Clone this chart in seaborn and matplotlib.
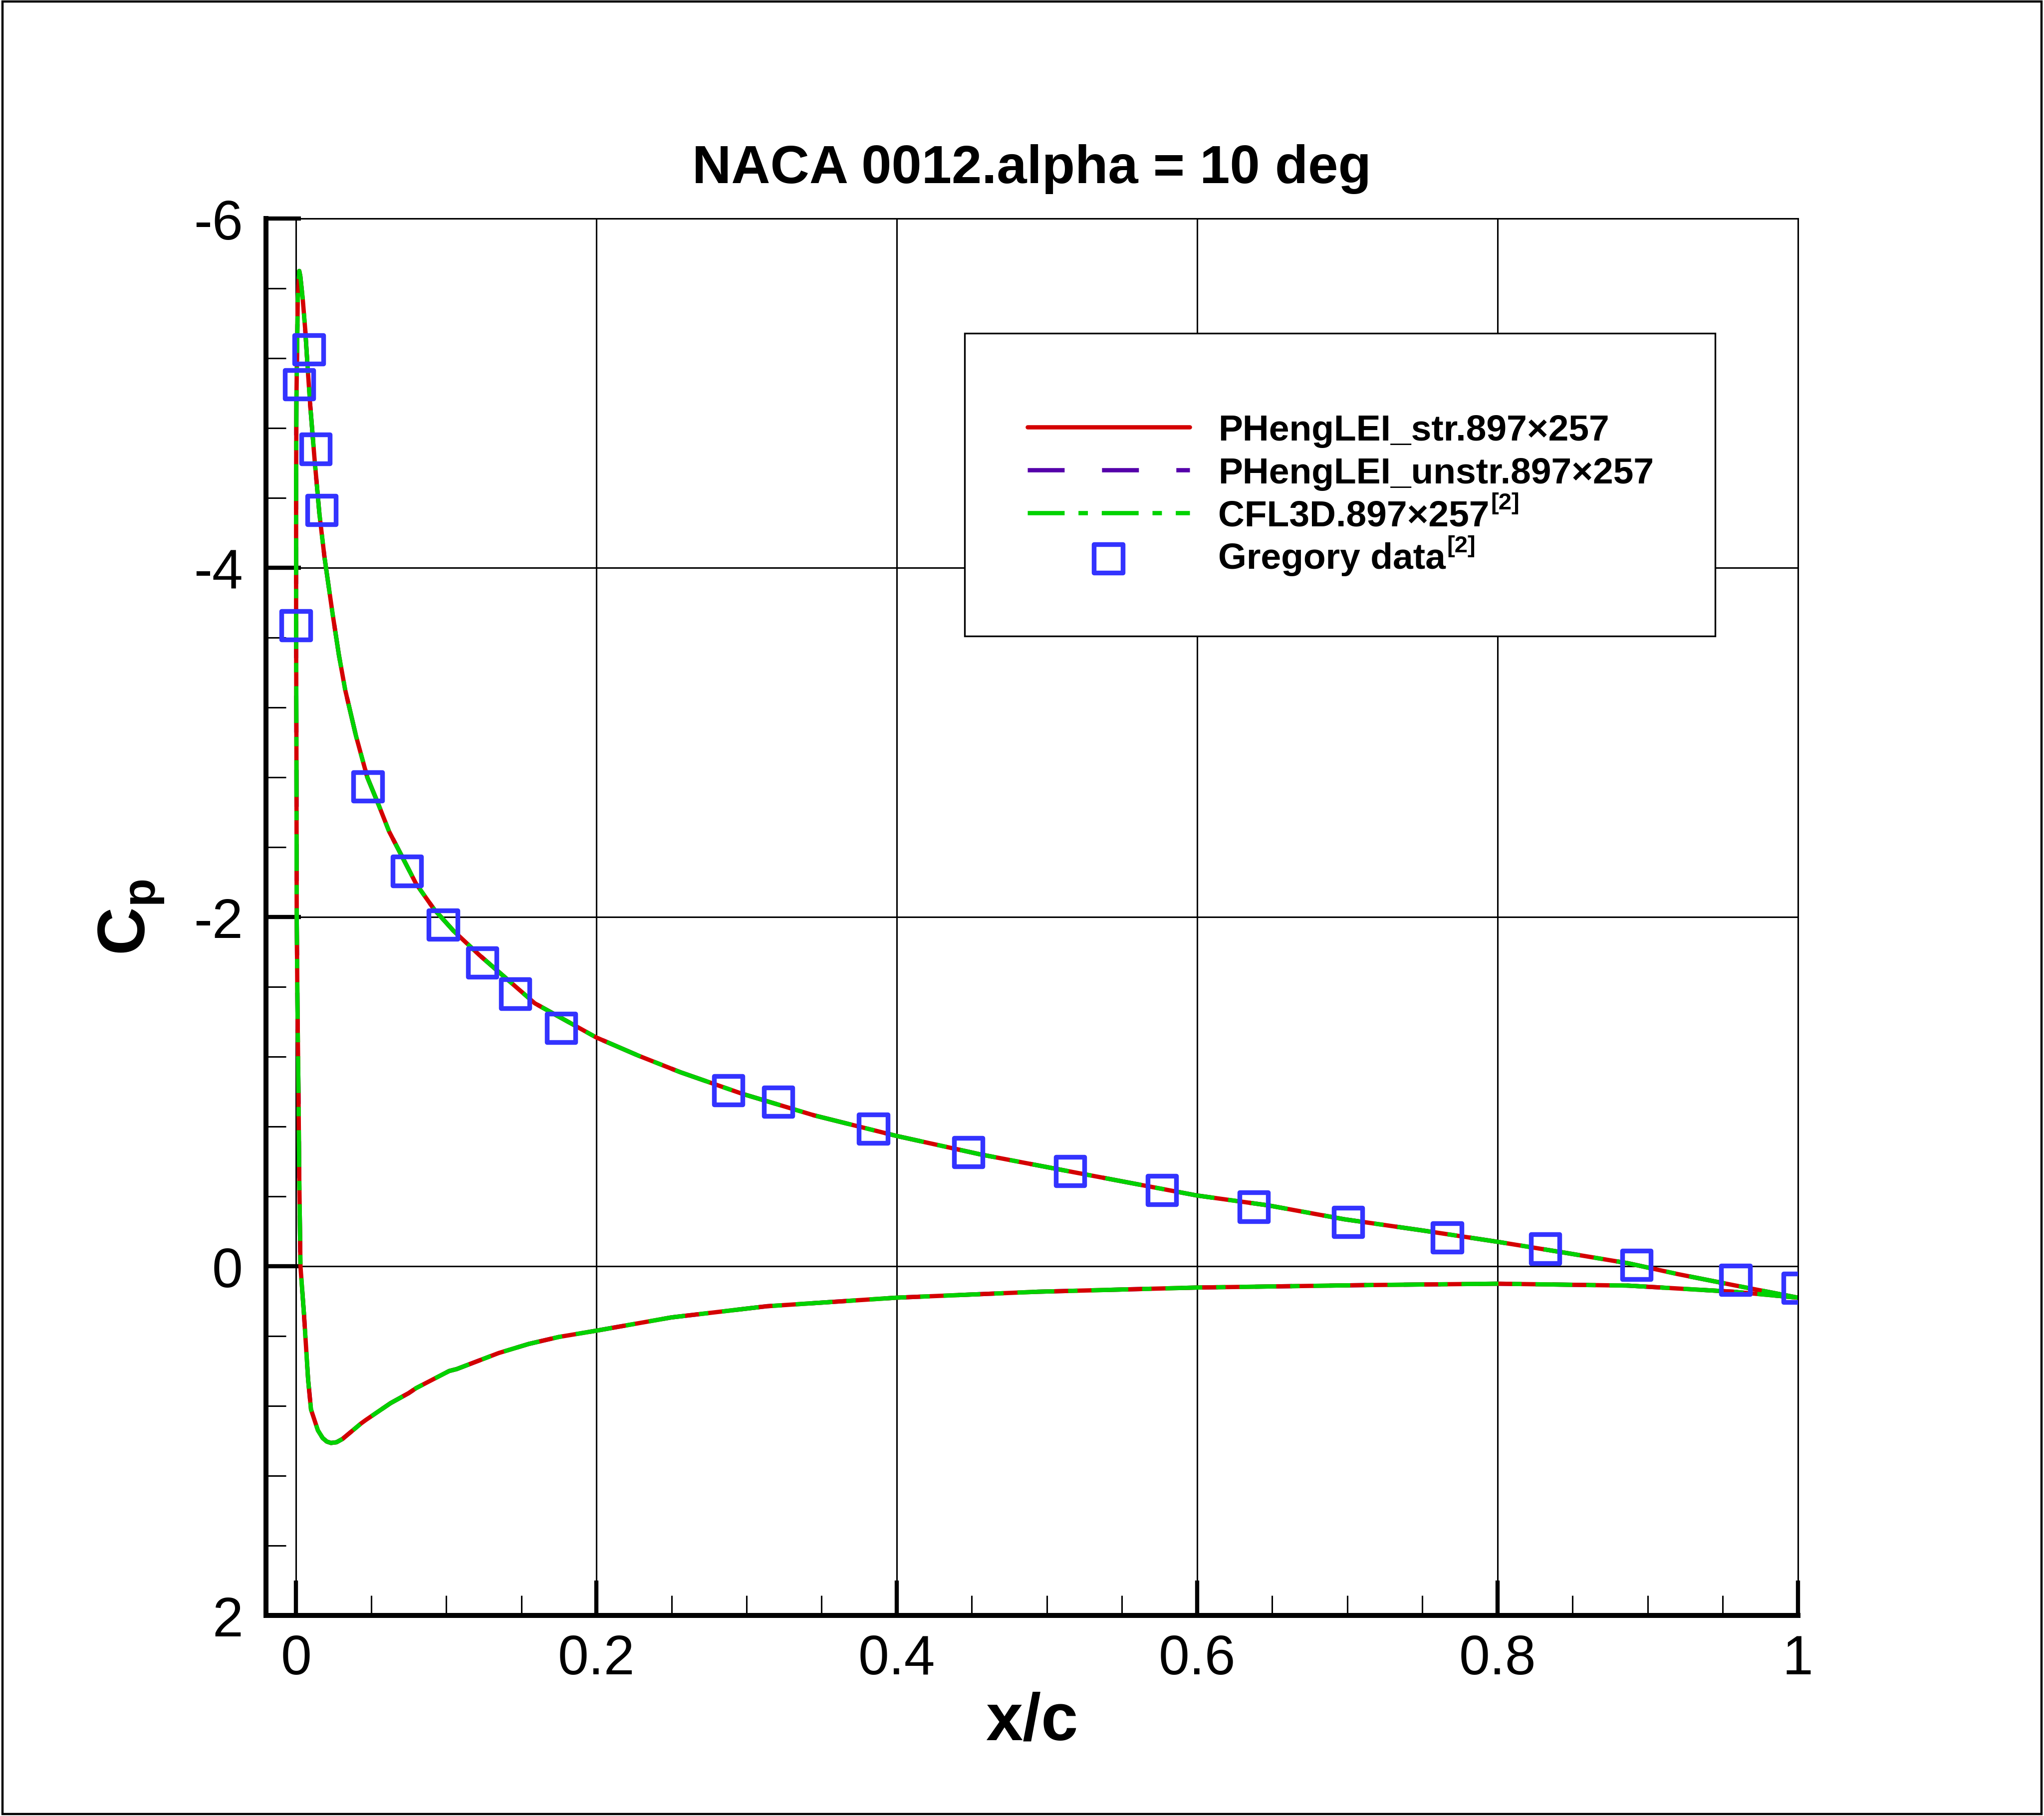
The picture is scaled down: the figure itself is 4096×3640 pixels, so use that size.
import matplotlib
matplotlib.use("Agg")
import pandas as pd
import seaborn as sns
import matplotlib.pyplot as plt
from matplotlib.patches import Rectangle
from matplotlib.ticker import MultipleLocator, FuncFormatter

# upper surface, trailing edge -> suction peak
upper_x = [1.0, 0.957, 0.92, 0.887, 0.843, 0.8, 0.75, 0.698, 0.647, 0.6, 0.52, 0.456,
           0.4, 0.345, 0.297, 0.256, 0.228, 0.2, 0.159, 0.122, 0.105, 0.092, 0.080,
           0.070, 0.062, 0.055, 0.0475, 0.040, 0.0328, 0.0286, 0.0245, 0.019, 0.0156,
           0.0123, 0.0095, 0.0079, 0.0062, 0.0045, 0.0029, 0.0022]
upper_cp = [0.18, 0.108, 0.045, -0.017, -0.08, -0.14, -0.205, -0.269, -0.349, -0.405,
            -0.535, -0.64, -0.746, -0.864, -0.988, -1.111, -1.206, -1.31, -1.506,
            -1.783, -1.92, -2.044, -2.19, -2.357, -2.49, -2.643, -2.80, -3.036, -3.30,
            -3.50, -3.73, -4.06, -4.31, -4.63, -4.93, -5.13, -5.36, -5.54, -5.67, -5.70]

# leading edge round the stagnation point, then lower surface -> trailing edge
lower_x = [0.0012, 0.0003, 0.0001, 0.0001, 0.0003, 0.0005, 0.0010, 0.0017, 0.0022,
           0.0030, 0.0053, 0.0081, 0.0100, 0.0146, 0.0178, 0.0205, 0.0233, 0.027, 0.031,
           0.0434, 0.0466, 0.063, 0.075, 0.080, 0.102, 0.107, 0.135, 0.155, 0.175, 0.2,
           0.25, 0.3136, 0.4, 0.494, 0.6, 0.712, 0.8, 0.887, 0.957, 1.0]
lower_cp = [-5.54, -4.96, -4.47, -3.65, -3.0, -2.0, -1.5, -0.97, -0.5, 0.0, 0.27, 0.65,
            0.82, 0.94, 0.984, 1.004, 1.012, 1.008, 0.989, 0.90, 0.88, 0.784, 0.727,
            0.698, 0.60, 0.589, 0.497, 0.445, 0.405, 0.369, 0.293, 0.229, 0.18, 0.146,
            0.122, 0.108, 0.10, 0.111, 0.146, 0.18]

# Gregory experiment
greg_x = [0.0, 0.002, 0.0086, 0.013, 0.017, 0.0478, 0.074, 0.098, 0.124, 0.146, 0.1766,
          0.288, 0.321, 0.3844, 0.4477, 0.5154, 0.5767, 0.6377, 0.7005, 0.7665, 0.8318,
          0.8925, 0.9585, 1.0]
greg_cp = [-3.67, -5.05, -5.25, -4.68, -4.33, -2.747, -2.263, -1.957, -1.738, -1.56,
           -1.364, -1.007, -0.942, -0.788, -0.654, -0.545, -0.435, -0.34, -0.254,
           -0.164, -0.10, -0.008, 0.078, 0.125]

labels = ["PHengLEI_str.897×257", "PHengLEI_unstr.897×257",
          "CFL3D.897×257", "Gregory data"]
ref_mark = "[2]"  # superscript on the last two entries

curve = pd.DataFrame({"x": upper_x + lower_x, "cp": upper_cp + lower_cp})

sns.set_style("white")
plt.rcParams["font.family"] = ["Liberation Sans", "DejaVu Sans"]
plt.rcParams["mathtext.fontset"] = "custom"
plt.rcParams["mathtext.rm"] = "Liberation Sans:bold"
plt.rcParams["mathtext.bf"] = "Liberation Sans:bold"
plt.rcParams["axes.unicode_minus"] = False
plt.rcParams["lines.scale_dashes"] = False
for key in ["text.color", "axes.labelcolor", "xtick.color", "ytick.color"]:
    plt.rcParams[key] = "black"

fig = plt.figure(figsize=(10.24, 9.1025), dpi=400)
ax = fig.add_axes([0.1301, 0.1104, 0.7495, 0.7690])

lw = 1.55
sns.lineplot(data=curve, x="x", y="cp", sort=False, estimator=None, color="#5500AA",
             linewidth=lw, linestyle=(0, (13.3, 13.5)), label=labels[1], ax=ax)
sns.lineplot(data=curve, x="x", y="cp", sort=False, estimator=None, color="#D40000",
             linewidth=lw, linestyle="-", label=labels[0], ax=ax)
sns.lineplot(data=curve, x="x", y="cp", sort=False, estimator=None, color="#00D200",
             linewidth=lw, linestyle=(0, (13.3, 5.0, 3.4, 5.0)), label=labels[2], ax=ax)
sns.scatterplot(x=greg_x, y=greg_cp, marker="s", s=106, facecolors="none",
                edgecolor="#3333FF", linewidth=1.7, label=labels[3], ax=ax, zorder=5)

ax.set_xlim(-0.02, 1.0)
ax.set_ylim(2, -6)
ax.xaxis.set_major_locator(MultipleLocator(0.2))
ax.xaxis.set_minor_locator(MultipleLocator(0.05))
ax.yaxis.set_major_locator(MultipleLocator(2))
ax.yaxis.set_minor_locator(MultipleLocator(0.4))
fmt = FuncFormatter(lambda v, p: f"{v:g}")
ax.xaxis.set_major_formatter(fmt)
ax.yaxis.set_major_formatter(fmt)

ax.tick_params(which="major", direction="in", length=12.6, width=1.5, labelsize=20,
               color="black", labelcolor="black", left=True, bottom=True)
ax.tick_params(which="minor", direction="in", length=7.2, width=0.55, left=True, bottom=True)
ax.tick_params(axis="x", which="major", pad=6.5)
ax.tick_params(axis="y", which="major", pad=8.3)

ax.set_axisbelow(True)
ax.grid(True, which="major", color="black", linewidth=0.55)
for side in ["left", "bottom"]:
    ax.spines[side].set_linewidth(1.8)
    ax.spines[side].set_color("black")
for side in ["top", "right"]:
    ax.spines[side].set_linewidth(0.55)
    ax.spines[side].set_color("black")

ax.set_title("NACA 0012.alpha = 10 deg", fontsize=19.5, fontweight="bold", pad=13)
ax.set_xlabel("x/c", fontsize=24, fontweight="bold", labelpad=2)
ax.set_ylabel(r"$\mathrm{C_p}$", fontsize=24, labelpad=10)

# legend box, white, covering the grid
ax.add_patch(Rectangle((0.456, 0.701), 0.490, 0.217, transform=ax.transAxes,
                       facecolor="white", edgecolor="black", linewidth=0.6, zorder=3))
handles, labs = ax.get_legend_handles_labels()
hmap = dict(zip(labs, handles))
leg = ax.legend([hmap[l] for l in labels], labels, loc="center left",
                bbox_to_anchor=(0.497, 0.8024), frameon=False,
                prop={"weight": "bold", "size": 13.2}, handlelength=4.43,
                handletextpad=0.79, labelspacing=0.24, borderpad=0, borderaxespad=0)

# superscript reference marks after the last two legend labels
fig.canvas.draw()
W, H = fig.bbox.width, fig.bbox.height
for t in leg.get_texts()[2:]:
    bb = t.get_window_extent()
    fig.text(bb.x1 / W + 0.0005, (bb.y1 + 14) / H, ref_mark, fontsize=8.5,
             fontweight="bold", va="top", ha="left", zorder=6)

fig.patches.append(Rectangle((0.0012, 0.0012), 0.9976, 0.9976, transform=fig.transFigure,
                             fill=False, edgecolor="black", linewidth=0.8))

fig.savefig("out.png", dpi=400)
